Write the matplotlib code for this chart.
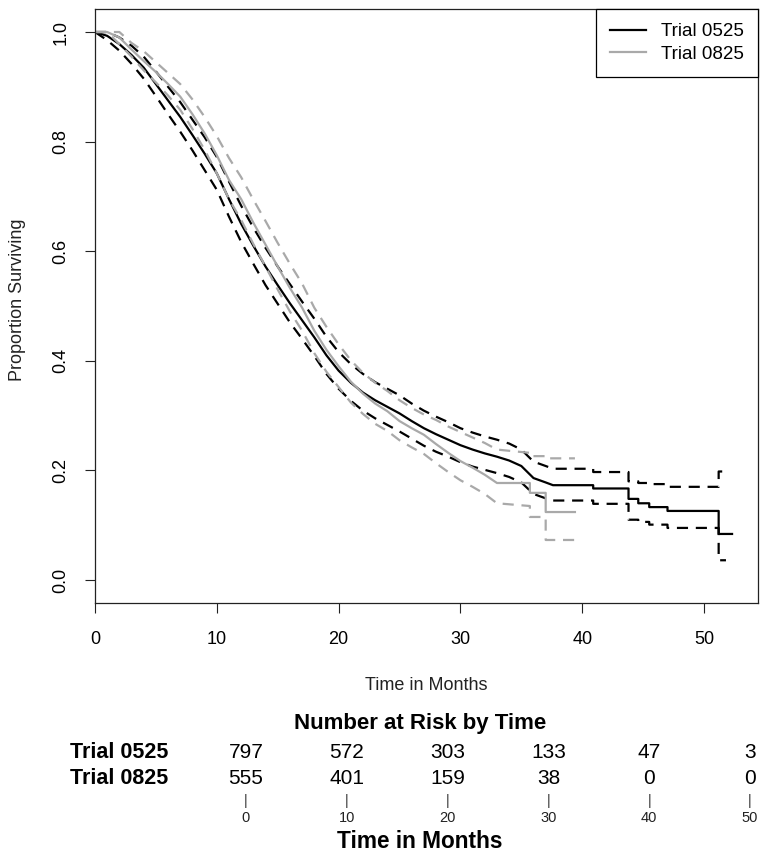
import matplotlib
matplotlib.use("Agg")
import matplotlib.pyplot as plt
from matplotlib.transforms import blended_transform_factory

plt.rcParams['font.family'] = ['Liberation Sans', 'DejaVu Sans']

# Trial 0525 (black): Kaplan-Meier estimate and 95% bounds
t05 = [0, 1, 2, 3, 4, 5, 6, 7, 8, 9, 10, 11, 12, 13, 14, 15, 16, 17, 18, 19, 20,
       21, 22, 23, 24, 25, 26, 27, 28, 29, 30, 31, 32, 33, 34, 35, 36, 37, 37.6,
       40.9, 40.9, 43.8, 43.8, 44.6, 44.6, 45.5, 45.5, 47, 47, 51.2, 51.2, 52.3]
s05 = [1.0, 0.993, 0.978, 0.958, 0.935, 0.905, 0.875, 0.845, 0.812, 0.778, 0.742,
       0.695, 0.650, 0.610, 0.572, 0.538, 0.505, 0.474, 0.443, 0.410, 0.382,
       0.360, 0.342, 0.328, 0.316, 0.304, 0.290, 0.277, 0.266, 0.256, 0.246,
       0.238, 0.231, 0.225, 0.218, 0.208, 0.186, 0.178, 0.173,
       0.173, 0.167, 0.167, 0.148, 0.148, 0.140, 0.140, 0.133, 0.133, 0.126,
       0.126, 0.084, 0.084]

tci05 = [0, 1, 2, 3, 4, 5, 6, 7, 8, 9, 10, 11, 12, 13, 14, 15, 16, 17, 18, 19, 20,
         21, 22, 23, 24, 25, 26, 27, 28, 29, 30, 31, 32, 33, 34, 35, 36, 37, 37.6,
         40.9, 40.9, 43.8, 43.8, 44.6, 44.6, 45.5, 45.5, 47, 47, 51.2, 51.2, 51.8]
up05 = [1.0, 1.0, 0.990, 0.975, 0.955, 0.928, 0.900, 0.872, 0.840, 0.808, 0.772,
        0.727, 0.683, 0.643, 0.606, 0.572, 0.540, 0.508, 0.477, 0.444, 0.416,
        0.394, 0.376, 0.361, 0.349, 0.337, 0.322, 0.309, 0.298, 0.288, 0.277,
        0.269, 0.262, 0.256, 0.249, 0.238, 0.216, 0.208, 0.203,
        0.203, 0.197, 0.197, 0.180, 0.180, 0.177, 0.177, 0.175, 0.175, 0.170,
        0.170, 0.198, 0.198]
lo05 = [1.0, 0.985, 0.966, 0.942, 0.915, 0.883, 0.850, 0.818, 0.784, 0.748, 0.712,
        0.663, 0.617, 0.577, 0.538, 0.504, 0.470, 0.440, 0.409, 0.376, 0.349,
        0.327, 0.309, 0.295, 0.283, 0.271, 0.258, 0.245, 0.234, 0.225, 0.215,
        0.207, 0.201, 0.195, 0.188, 0.178, 0.157, 0.149, 0.145,
        0.145, 0.139, 0.139, 0.110, 0.110, 0.106, 0.106, 0.101, 0.101, 0.095,
        0.095, 0.036, 0.036]

# Trial 0825 (gray)
t08 = [0, 1, 2, 3, 4, 5, 6, 7, 8, 9, 10, 11, 12, 13, 14, 15, 16, 17, 18, 19, 20,
       21, 22, 23, 24, 25, 26, 27, 28, 29, 30, 31, 32, 33, 35.7, 35.7, 37, 37, 39.4]
s08 = [1.0, 1.0, 0.990, 0.968, 0.947, 0.927, 0.905, 0.882, 0.850, 0.815, 0.775,
       0.730, 0.695, 0.652, 0.612, 0.572, 0.533, 0.497, 0.455, 0.420, 0.390,
       0.362, 0.340, 0.322, 0.308, 0.290, 0.277, 0.265, 0.248, 0.232, 0.217,
       0.205, 0.192, 0.177, 0.177, 0.159, 0.159, 0.124, 0.124]
up08 = [1.0, 1.0, 1.0, 0.980, 0.965, 0.945, 0.925, 0.905, 0.877, 0.845, 0.810,
        0.770, 0.735, 0.694, 0.655, 0.615, 0.577, 0.541, 0.497, 0.462, 0.430,
        0.401, 0.378, 0.360, 0.345, 0.328, 0.314, 0.302, 0.292, 0.280, 0.270,
        0.260, 0.250, 0.238, 0.232, 0.226, 0.226, 0.222, 0.222]
lo08 = [1.0, 1.0, 0.978, 0.955, 0.930, 0.908, 0.884, 0.858, 0.823, 0.785, 0.742,
        0.695, 0.657, 0.613, 0.572, 0.530, 0.490, 0.455, 0.414, 0.380, 0.352,
        0.324, 0.303, 0.285, 0.272, 0.255, 0.242, 0.230, 0.213, 0.197, 0.182,
        0.170, 0.157, 0.140, 0.135, 0.115, 0.115, 0.073, 0.073]

# number at risk table
risk_times = [0, 10, 20, 30, 40, 50]
risk_0525 = [797, 572, 303, 133, 47, 3]
risk_0825 = [555, 401, 159, 38, 0, 0]
groups = ['Trial 0525', 'Trial 0825']

black = 'black'
grey = '#a9a9a9'
dash = (0, (5, 3.5))

fig = plt.figure(figsize=(7.6, 8.56), dpi=100)
ax = fig.add_axes([95 / 760, 1 - 603 / 856, (758 - 95) / 760, (603 - 9) / 856])

ax.plot(t05, s05, color=black, lw=1.6, label=groups[0])
ax.plot(tci05, up05, color=black, lw=1.6, ls=dash)
ax.plot(tci05, lo05, color=black, lw=1.6, ls=dash)
ax.plot(t08, s08, color=grey, lw=1.6, label=groups[1])
ax.plot(t08, up08, color=grey, lw=1.6, ls=dash)
ax.plot(t08, lo08, color=grey, lw=1.6, ls=dash)

ax.set_xlim(0, 54.43)
ax.set_ylim(-0.042, 1.042)
ax.set_xticks([0, 10, 20, 30, 40, 50])
ax.set_yticks([0.0, 0.2, 0.4, 0.6, 0.8, 1.0])
ax.set_yticklabels(['0.0', '0.2', '0.4', '0.6', '0.8', '1.0'])
ax.tick_params(axis='both', length=7.2, width=0.8, labelsize=13, color='#222222')
ax.tick_params(axis='x', pad=13)
ax.tick_params(axis='y', pad=11)
for lab in ax.get_yticklabels():
    lab.set_rotation(90)
    lab.set_va('center')
for sp in ax.spines.values():
    sp.set_linewidth(0.9)
    sp.set_color('#222222')

fig.text(426 / 760, 1 - 685 / 856, 'Time in Months', ha='center', va='center',
         fontsize=13, color='#222222')
fig.text(18 / 760, 1 - 300 / 856, 'Proportion Surviving', ha='center', va='center',
         rotation=90, fontsize=13, color='#222222')

leg = ax.legend(loc='upper right', bbox_to_anchor=(1, 1), borderaxespad=0,
                fontsize=13.5, handlelength=1.9, handletextpad=0.8,
                borderpad=0.75, labelspacing=0.3, fancybox=False,
                framealpha=1, edgecolor='black')
leg.get_frame().set_linewidth(0.9)

# risk table below the plot, its own x scale (0..50 between px 246 and 750)
rt = fig.add_axes([246 / 760, 0.0, (750 - 246) / 760, 0.01])
rt.set_xlim(0, 50)
rt.axis('off')
tr = blended_transform_factory(rt.transData, fig.transFigure)

fig.text(420 / 760, 1 - 724 / 856, 'Number at Risk by Time', ha='center',
         va='center', fontsize=16, fontweight='bold')
fig.text(168 / 760, 1 - 753 / 856, groups[0], ha='right', va='center',
         fontsize=15.5, fontweight='bold')
fig.text(168 / 760, 1 - 778 / 856, groups[1], ha='right', va='center',
         fontsize=15.5, fontweight='bold')
for t, a, b in zip(risk_times, risk_0525, risk_0825):
    rt.text(t, 1 - 753 / 856, str(a), transform=tr, ha='center', va='center',
            fontsize=15)
    rt.text(t, 1 - 778 / 856, str(b), transform=tr, ha='center', va='center',
            fontsize=15)
    rt.text(t, 1 - 801 / 856, '|', transform=tr, ha='center', va='center',
            fontsize=10, color='#333333',
            family=['Liberation Sans Narrow', 'Liberation Sans'])
    rt.text(t, 1 - 818 / 856, str(t), transform=tr, ha='center', va='center',
            fontsize=10.5, color='#222222',
            family=['Liberation Sans Narrow', 'Liberation Sans'])
fig.text(420 / 760, 1 - 842 / 856, 'Time in Months', ha='center', va='center',
         fontsize=16.3, fontweight='bold')

fig.savefig('out.png', dpi=100)
